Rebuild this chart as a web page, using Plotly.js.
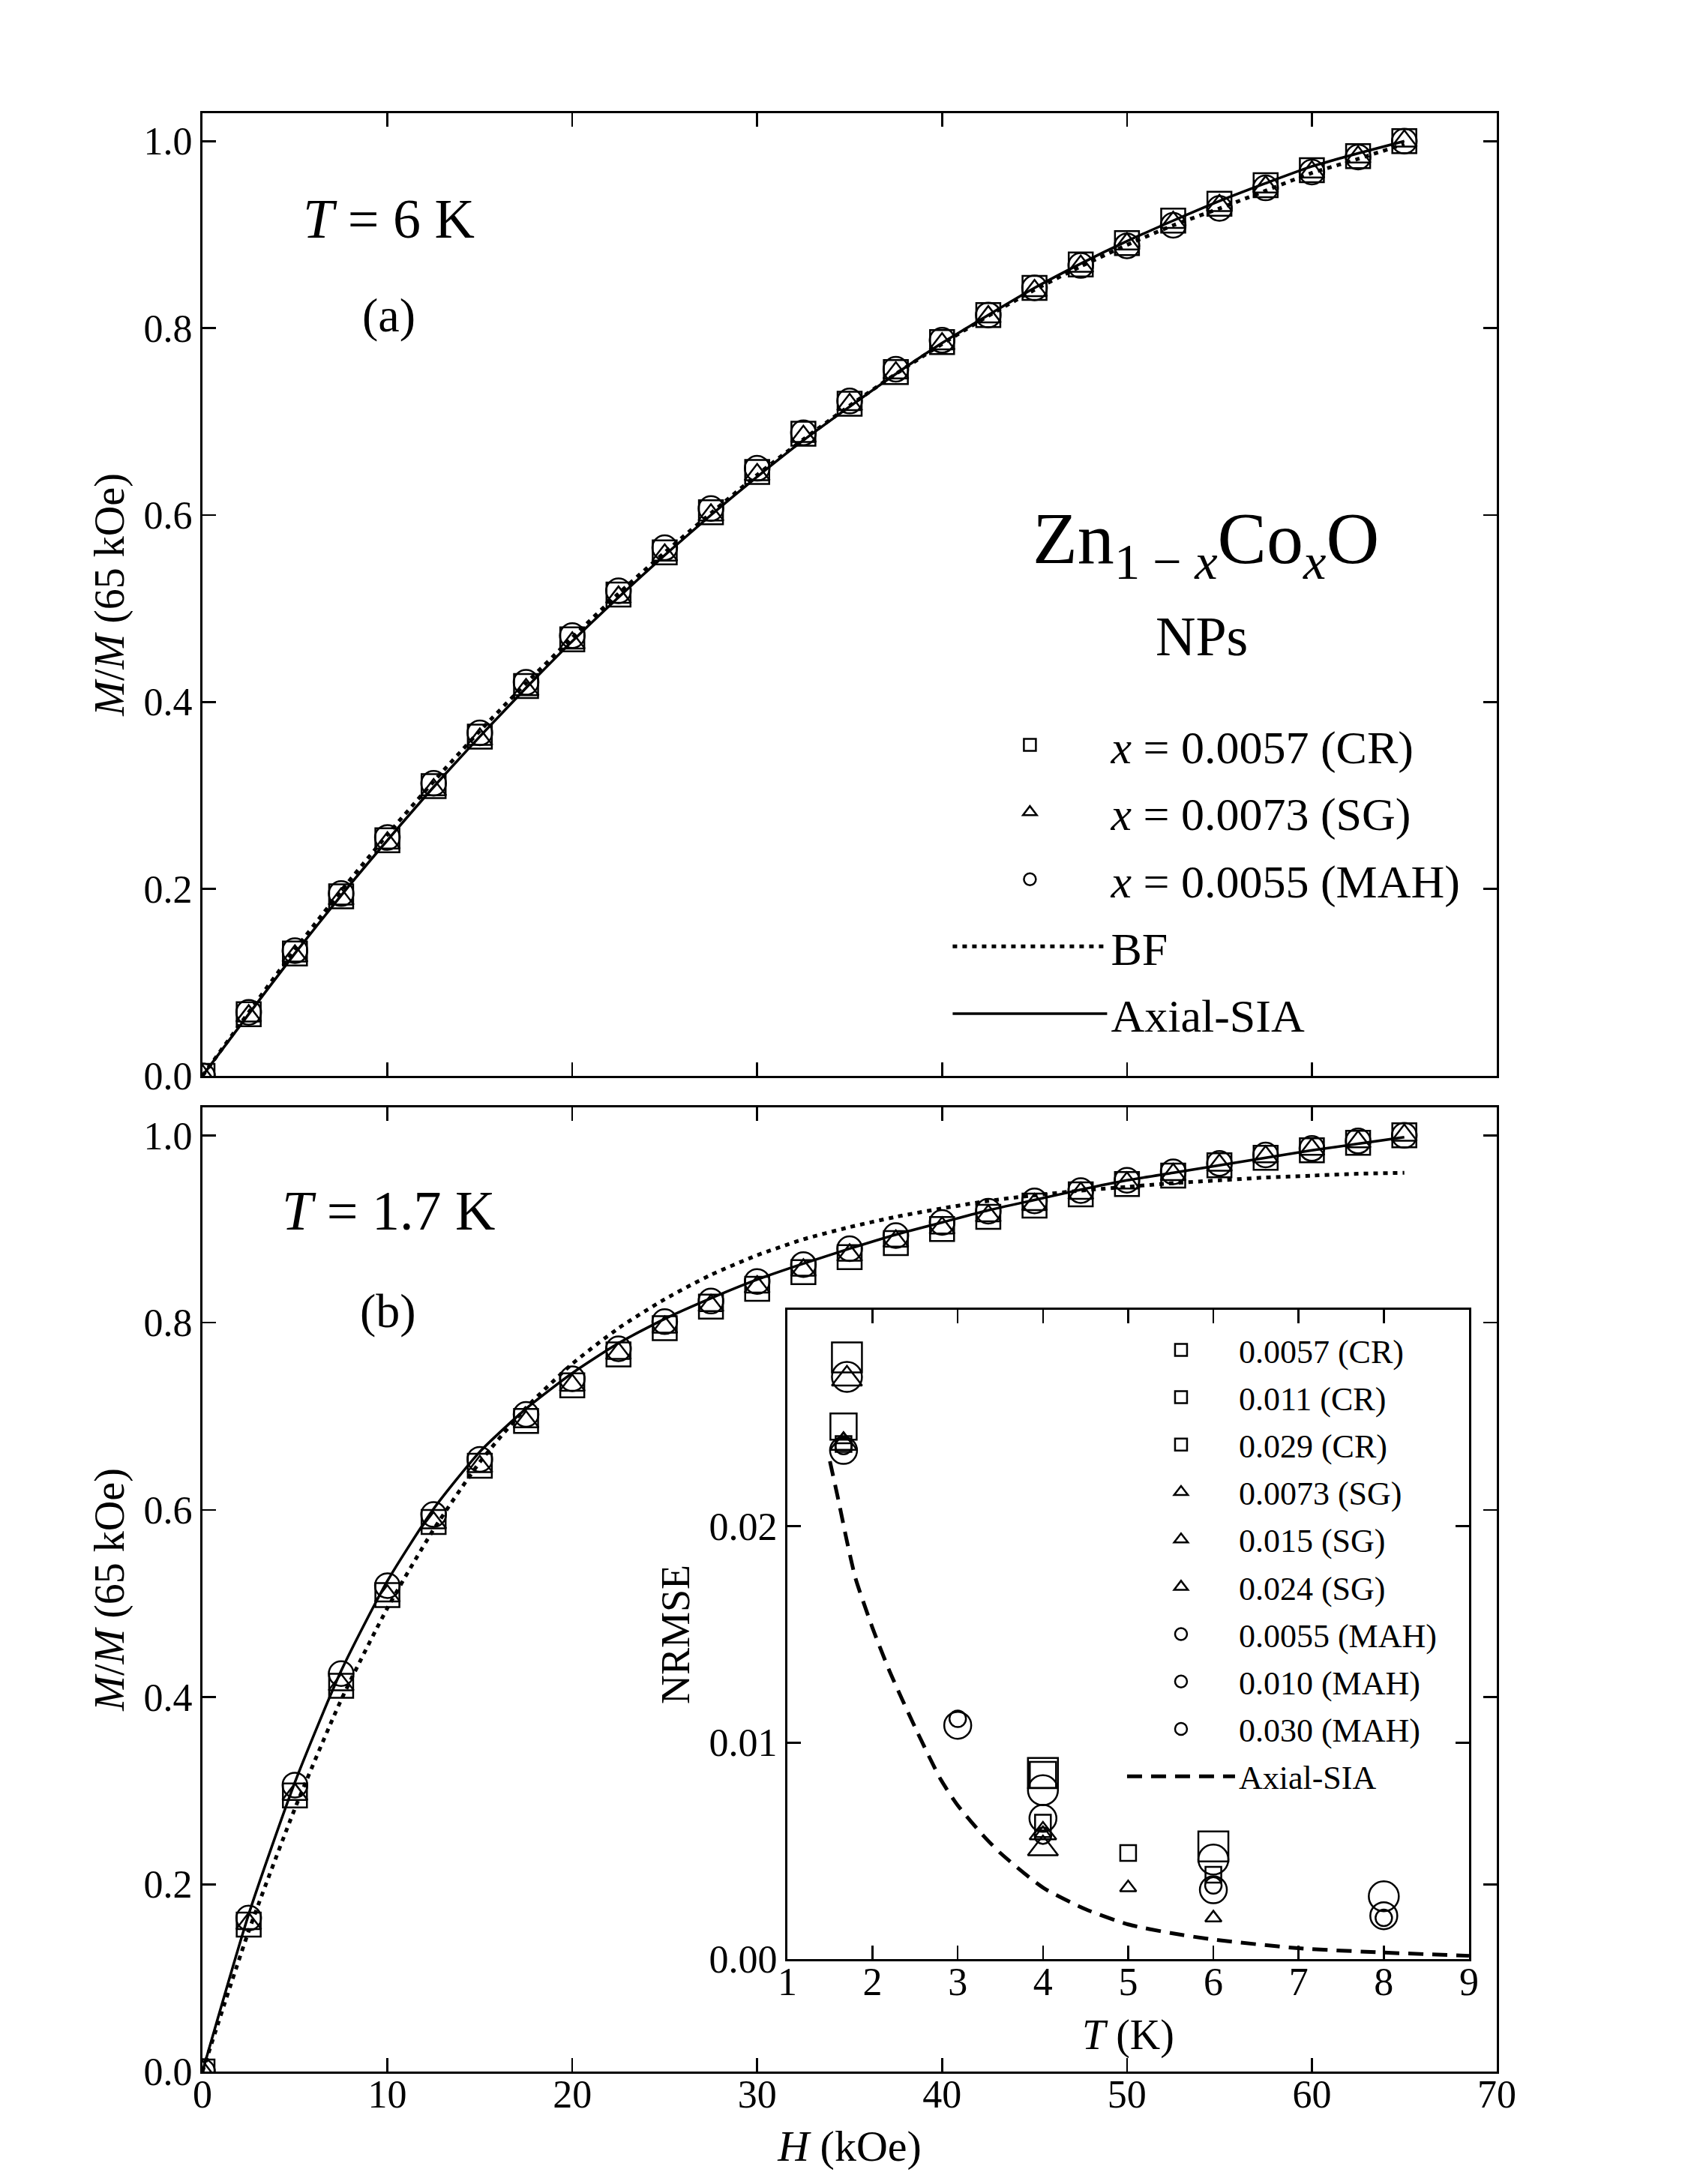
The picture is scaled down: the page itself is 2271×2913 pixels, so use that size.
<!DOCTYPE html>
<html>
<head>
<meta charset="utf-8">
<script src="https://cdn.plot.ly/plotly-3.0.1.min.js"></script>
<style>body{margin:0;background:#fff;} #graph{width:2271px;height:2913px;}</style>
</head>
<body>
<div id="graph"></div>
<script>
// field values (kOe), same grid for both panels
const H = [0, 2.5, 5, 7.5, 10, 12.5, 15, 17.5, 20, 22.5, 25, 27.5, 30, 32.5, 35, 37.5, 40, 42.5, 45, 47.5, 50, 52.5, 55, 57.5, 60, 62.5, 65];

// (a) T = 6 K
const a_cr  = [0, 0.066, 0.131, 0.192, 0.252, 0.310, 0.363, 0.417, 0.467, 0.515, 0.560, 0.603, 0.646, 0.687, 0.719, 0.753, 0.785, 0.814, 0.843, 0.868, 0.891, 0.915, 0.933, 0.953, 0.969, 0.984, 1.0];
const a_sg  = [0, 0.064, 0.128, 0.189, 0.249, 0.306, 0.360, 0.413, 0.463, 0.512, 0.557, 0.600, 0.643, 0.684, 0.718, 0.752, 0.783, 0.812, 0.840, 0.866, 0.890, 0.913, 0.931, 0.951, 0.967, 0.983, 1.0];
const a_mah = [0, 0.068, 0.134, 0.195, 0.255, 0.313, 0.367, 0.421, 0.471, 0.519, 0.565, 0.607, 0.650, 0.688, 0.722, 0.756, 0.787, 0.814, 0.843, 0.867, 0.888, 0.910, 0.928, 0.950, 0.967, 0.983, 1.0];
const a_bf  = [0, 0.068, 0.135, 0.198, 0.258, 0.315, 0.369, 0.420, 0.469, 0.516, 0.560, 0.602, 0.643, 0.681, 0.717, 0.751, 0.783, 0.813, 0.841, 0.866, 0.889, 0.910, 0.928, 0.947, 0.966, 0.981, 0.997];
const a_sia = [0, 0.066, 0.131, 0.193, 0.252, 0.309, 0.363, 0.415, 0.465, 0.512, 0.557, 0.600, 0.641, 0.680, 0.716, 0.751, 0.784, 0.814, 0.843, 0.869, 0.893, 0.915, 0.936, 0.955, 0.973, 0.987, 1.0];

// (b) T = 1.7 K
const b_cr  = [0, 0.157, 0.295, 0.412, 0.509, 0.587, 0.647, 0.695, 0.733, 0.766, 0.794, 0.817, 0.836, 0.854, 0.870, 0.885, 0.900, 0.913, 0.925, 0.937, 0.948, 0.957, 0.968, 0.976, 0.984, 0.992, 1.0];
const b_sg  = [0, 0.158, 0.296, 0.413, 0.508, 0.586, 0.646, 0.694, 0.733, 0.767, 0.795, 0.818, 0.838, 0.856, 0.872, 0.887, 0.901, 0.914, 0.926, 0.938, 0.949, 0.958, 0.968, 0.977, 0.985, 0.993, 1.0];
const b_mah = [0, 0.164, 0.306, 0.425, 0.519, 0.595, 0.654, 0.702, 0.740, 0.772, 0.801, 0.823, 0.844, 0.862, 0.879, 0.893, 0.907, 0.919, 0.930, 0.941, 0.952, 0.961, 0.970, 0.979, 0.986, 0.994, 1.0];
const b_bf  = [0, 0.150, 0.281, 0.397, 0.495, 0.579, 0.651, 0.709, 0.756, 0.794, 0.825, 0.851, 0.872, 0.889, 0.902, 0.913, 0.922, 0.930, 0.936, 0.941, 0.945, 0.949, 0.952, 0.955, 0.957, 0.959, 0.960];
const b_sia = [0, 0.168, 0.309, 0.428, 0.524, 0.601, 0.662, 0.708, 0.746, 0.778, 0.804, 0.826, 0.846, 0.863, 0.879, 0.894, 0.907, 0.920, 0.931, 0.942, 0.952, 0.960, 0.968, 0.976, 0.984, 0.991, 0.998];

// inset: NRMSE vs T
const inset_names = ["0.0057 (CR)", "0.011 (CR)", "0.029 (CR)", "0.0073 (SG)", "0.015 (SG)", "0.024 (SG)", "0.0055 (MAH)", "0.010 (MAH)", "0.030 (MAH)"];
const inset_T = [
    [1.66, 4, 5, 6], [1.66, 4], [1.7, 4, 6],
    [1.66, 4, 5, 6], [1.66, 4], [1.7, 4],
    [1.66, 3, 4, 6, 8], [1.66, 3, 4, 6, 8], [1.7, 4, 6, 8]];
const inset_nrmse = [
    [0.0238, 0.0063, 0.0049, 0.0039], [0.0246, 0.0085], [0.0278, 0.0086, 0.0052],
    [0.0240, 0.0058, 0.0033, 0.0019], [0.0238, 0.0058], [0.0268, 0.0051],
    [0.0237, 0.0111, 0.0057, 0.0034, 0.0019], [0.0235, 0.0108, 0.0065, 0.0032, 0.0020], [0.0269, 0.0078, 0.0046, 0.0029]];
const sia_T = [1.5, 1.6, 1.7, 1.8, 2.0, 2.2, 2.5, 2.8, 3.0, 3.3, 3.5, 4.0, 4.5, 5.0, 5.5, 6.0, 7.0, 8.0, 9.0];
const sia_nrmse = [0.0230, 0.0212, 0.0193, 0.0176, 0.0153, 0.0133, 0.0107, 0.0083, 0.0071, 0.0057, 0.0049, 0.0033, 0.0023, 0.0016, 0.0012, 0.0009, 0.0005, 0.0003, 0.00015];
const inset_yticks = [0, 0.01, 0.02];

const FONT = "Liberation Serif, Times New Roman, serif";
const symbols = ["square-open", "triangle-up-open", "circle-open"];
const inset_symbols = ["square-open", "square-open", "square-open", "triangle-up-open", "triangle-up-open", "triangle-up-open", "circle-open", "circle-open", "circle-open"];
const inset_sizes = [21, 35, 40, 19, 31, 35, 22, 36, 40];

function markerTrace(x, y, sym, size, name, xa, ya, show, leg) {
    return {x: x, y: y, mode: "markers", name: name, xaxis: xa, yaxis: ya, showlegend: show, legend: leg, legendgroup: name,
        marker: {symbol: sym, size: size, color: "black", line: {color: "black", width: 2.5}}, cliponaxis: true};
}
function lineTrace(x, y, dash, width, name, xa, ya, show, leg) {
    return {x: x, y: y, mode: "lines", name: name, xaxis: xa, yaxis: ya, showlegend: show, legend: leg, legendgroup: name,
        line: {color: "black", width: width, dash: dash, shape: "spline", smoothing: 0.6}};
}

const traces = [
    markerTrace(H, a_cr, symbols[0], 32, "<i>x</i> = 0.0057 (CR)", "x", "y", true, "legend"),
    markerTrace(H, a_sg, symbols[1], 29, "<i>x</i> = 0.0073 (SG)", "x", "y", true, "legend"),
    markerTrace(H, a_mah, symbols[2], 33, "<i>x</i> = 0.0055 (MAH)", "x", "y", true, "legend"),
    lineTrace(H, a_bf, "6px,7px", 5, "BF", "x", "y", true, "legend"),
    lineTrace(H, a_sia, "solid", 3.5, "Axial-SIA", "x", "y", true, "legend"),
    markerTrace(H, b_cr, symbols[0], 32, "b_cr", "x2", "y2", false, "legend"),
    markerTrace(H, b_sg, symbols[1], 29, "b_sg", "x2", "y2", false, "legend"),
    markerTrace(H, b_mah, symbols[2], 33, "b_mah", "x2", "y2", false, "legend"),
    lineTrace(H, b_bf, "6px,7px", 5, "b_bf", "x2", "y2", false, "legend"),
    lineTrace(H, b_sia, "solid", 3.5, "b_sia", "x2", "y2", false, "legend")
];
inset_names.forEach((n, i) => traces.push(markerTrace(inset_T[i], inset_nrmse[i], inset_symbols[i], inset_sizes[i], n, "x3", "y3", true, "legend2")));
traces.push(lineTrace(sia_T, sia_nrmse, "20px,12px", 5, "Axial-SIA ", "x3", "y3", true, "legend2"));

const axisStyle = {showline: true, linecolor: "black", linewidth: 3, mirror: "ticks", ticks: "inside", ticklen: 18, tickwidth: 2.5, tickcolor: "black",
    showgrid: false, zeroline: false, tickfont: {family: FONT, size: 52, color: "black"}};
const mTitle = {text: "<i>M</i>/<i>M</i> (65 kOe)", font: {family: FONT, size: 56, color: "black"}, standoff: 9};

// in-plot labels
const notes = [
    ["<i>T</i> = 6 K", 0.2281, 0.8998, 74],
    ["(a)", 0.2281, 0.8555, 64],
    ["Zn<sub>1 − <i>x</i></sub>Co<sub><i>x</i></sub>O", 0.708, 0.7509, 98],
    ["NPs", 0.7055, 0.7087, 74],
    ["<i>T</i> = 1.7 K", 0.2281, 0.4456, 74],
    ["(b)", 0.2277, 0.3996, 64]];

const layout = {
    width: 2271, height: 2913, margin: {l: 0, r: 0, t: 0, b: 0}, paper_bgcolor: "white", plot_bgcolor: "white",
    font: {family: FONT, color: "black"},
    xaxis: Object.assign({}, axisStyle, {domain: [0.1189, 0.8789], range: [0, 70], dtick: 10, anchor: "y", showticklabels: false}),
    yaxis: Object.assign({}, axisStyle, {domain: [0.5074, 0.9482], range: [0, 1.03], dtick: 0.2, tickformat: ".1f", anchor: "x", title: mTitle}),
    xaxis2: Object.assign({}, axisStyle, {domain: [0.1189, 0.8789], range: [0, 70], dtick: 10, anchor: "y2", ticklabelstandoff: -17,
        title: {text: "<i>H</i> (kOe)", font: {family: FONT, size: 58, color: "black"}, standoff: 21}}),
    yaxis2: Object.assign({}, axisStyle, {domain: [0.0515, 0.4930], range: [0, 1.03], dtick: 0.2, tickformat: ".1f", anchor: "x2", title: mTitle}),
    xaxis3: Object.assign({}, axisStyle, {domain: [0.4623, 0.8626], range: [1, 9], dtick: 1, anchor: "y3", ticklabelstandoff: -17,
        title: {text: "<i>T</i> (K)", font: {family: FONT, size: 56, color: "black"}, standoff: 23}}),
    yaxis3: Object.assign({}, axisStyle, {domain: [0.1030, 0.4003], range: [0, 0.03], tickvals: inset_yticks, tickformat: ".2f", anchor: "x3",
        title: {text: "NRMSE", font: {family: FONT, size: 54, color: "black"}, standoff: 9}}),
    legend: {x: 0.5572, y: 0.675, xanchor: "left", yanchor: "top", bgcolor: "rgba(0,0,0,0)", traceorder: "grouped", tracegroupgap: 6,
        itemwidth: 206, font: {family: FONT, size: 62, color: "black"}},
    legend2: {x: 0.6596, y: 0.394, xanchor: "left", yanchor: "top", bgcolor: "rgba(0,0,0,0)", traceorder: "grouped", tracegroupgap: 3,
        itemwidth: 144, font: {family: FONT, size: 44, color: "black"}},
    annotations: notes.map(([t, x, y, s]) => ({text: t, x: x, y: y, xref: "paper", yref: "paper", xanchor: "center", yanchor: "middle",
        showarrow: false, font: {family: FONT, size: s, color: "black"}}))
};

Plotly.newPlot("graph", traces, layout, {displayModeBar: false, staticPlot: true});
</script>
</body>
</html>
